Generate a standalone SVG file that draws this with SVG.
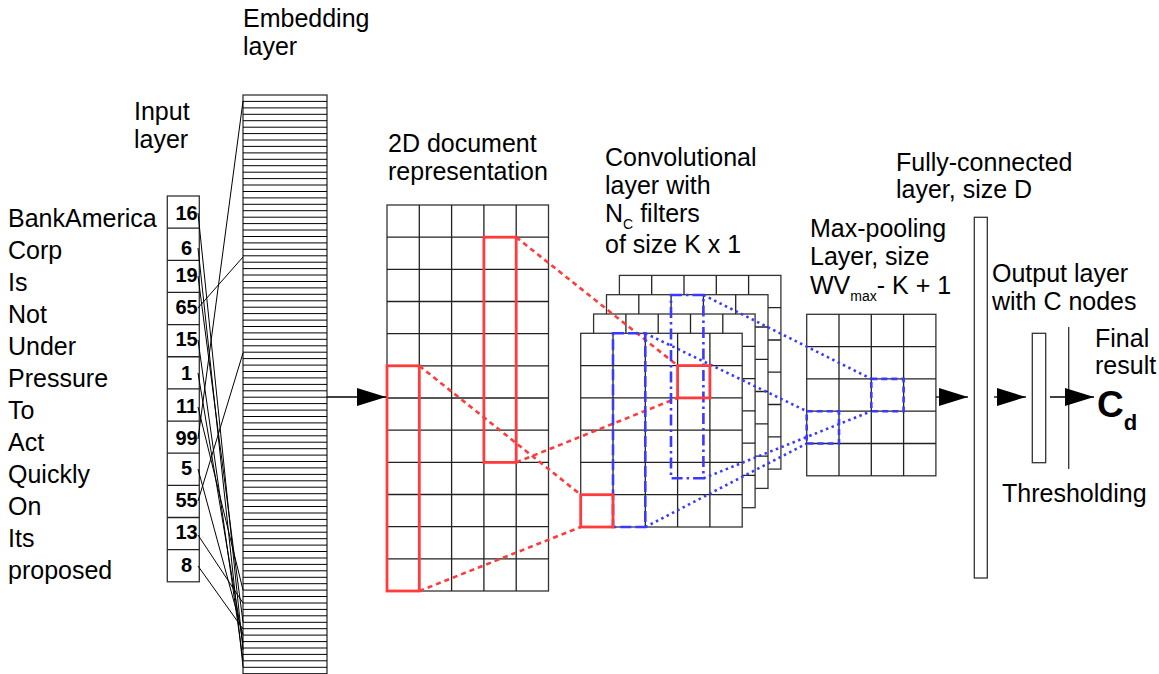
<svg xmlns="http://www.w3.org/2000/svg" xmlns:xlink="http://www.w3.org/1999/xlink" width="1159" height="674" viewBox="0 0 1159 674">
<style>
  text { font-family: "Liberation Sans", Arial, sans-serif; font-size: 25px; fill: #000; }
  .num { font-weight: bold; font-size: 20px; text-anchor: middle; }
  .sub { font-size: 14px; }
  .big { font-weight: bold; font-size: 37px; }
  .bigsub { font-weight: bold; font-size: 22px; }
  .grid { fill: #fff; stroke: #333; stroke-width: 1.3; }
  .gl { fill: none; stroke: #222; stroke-width: 1.3; }
  .wire { fill: none; stroke: #000; stroke-width: 1; }
  .redbox { fill: none; stroke: #ff3b3b; stroke-width: 2.8; }
  .reddash { fill: none; stroke: #ff3b3b; stroke-width: 2.6; stroke-dasharray: 5 4; }
  .bluedot { fill: none; stroke: #3a3aff; stroke-width: 2.6; stroke-dasharray: 2.5 3.5; }
  .bluelong { fill: none; stroke: #3a3aff; stroke-width: 2.6; stroke-dasharray: 11 4; }
  .bluedd { fill: none; stroke: #3a3aff; stroke-width: 2.6; stroke-dasharray: 11 4 2.5 4; }
  .bluesq { fill: none; stroke: #3a3aff; stroke-width: 2.6; stroke-dasharray: 6 4; }
  .arr { fill: none; stroke: #000; stroke-width: 1.3; marker-end: url(#ah); }
  .bar { fill: #fff; stroke: #333; stroke-width: 1.3; }
</style>
<defs>
  <marker id="ah" markerUnits="userSpaceOnUse" markerWidth="30" markerHeight="18" refX="29" refY="9" orient="auto" overflow="visible">
    <path d="M0,0 L29,9 L0,18 Z" fill="#000"/>
  </marker>
  <g id="convgrid">
    <rect x="0" y="0" width="161.5" height="193.7" class="grid"/>
    <path class="gl" d="M32.3,0V193.7M64.6,0V193.7M96.9,0V193.7M129.2,0V193.7M0,32.3H161.5M0,64.6H161.5M0,96.8H161.5M0,129.1H161.5M0,161.4H161.5"/>
  </g>
</defs>
<rect width="1159" height="674" fill="#fff"/>

<!-- Input words -->
<g id="words">
  <text x="8" y="227">BankAmerica</text>
  <text x="8" y="259">Corp</text>
  <text x="8" y="291">Is</text>
  <text x="8" y="323">Not</text>
  <text x="8" y="355">Under</text>
  <text x="8" y="387">Pressure</text>
  <text x="8" y="419">To</text>
  <text x="8" y="451">Act</text>
  <text x="8" y="483">Quickly</text>
  <text x="8" y="515">On</text>
  <text x="8" y="547">Its</text>
  <text x="8" y="579">proposed</text>
</g>

<!-- Input layer -->
<g id="input-layer">
  <text x="134" y="120">Input</text>
  <text x="134" y="148">layer</text>
  <rect x="167.3" y="196" width="32" height="385.8" class="bar"/>
  <path class="gl" d="M167.3,228.15h32M167.3,260.3h32M167.3,292.45h32M167.3,324.6h32M167.3,356.75h32M167.3,388.9h32M167.3,421.05h32M167.3,453.2h32M167.3,485.35h32M167.3,517.5h32M167.3,549.65h32"/>
  <text class="num" x="186.5" y="220">16</text>
  <text class="num" x="186.5" y="255">6</text>
  <text class="num" x="186.5" y="282">19</text>
  <text class="num" x="186.5" y="314">65</text>
  <text class="num" x="186.5" y="346">15</text>
  <text class="num" x="186.5" y="380">1</text>
  <text class="num" x="186.5" y="413">11</text>
  <text class="num" x="186.5" y="445">99</text>
  <text class="num" x="186.5" y="475">5</text>
  <text class="num" x="186.5" y="507">55</text>
  <text class="num" x="186.5" y="539">13</text>
  <text class="num" x="186.5" y="572">8</text>
</g>

<!-- Embedding layer -->
<g id="embedding-layer">
  <text x="243" y="27">Embedding</text>
  <text x="243" y="55">layer</text>
  <rect x="243" y="95" width="84" height="590" class="bar"/>
  <path class="wire" stroke="#222" d="M243,101.4h84M243,107.9h84M243,114.3h84M243,120.7h84M243,127.2h84M243,133.6h84M243,140h84M243,146.4h84M243,152.9h84M243,159.3h84M243,165.7h84M243,172.2h84M243,178.6h84M243,185h84M243,191.5h84M243,197.9h84M243,204.3h84M243,210.7h84M243,217.2h84M243,223.6h84M243,230h84M243,236.5h84M243,242.9h84M243,249.3h84M243,255.8h84M243,262.2h84M243,268.6h84M243,275h84M243,281.5h84M243,287.9h84M243,294.3h84M243,300.8h84M243,307.2h84M243,313.6h84M243,320.1h84M243,326.5h84M243,332.9h84M243,339.3h84M243,345.8h84M243,352.2h84M243,358.6h84M243,365.1h84M243,371.5h84M243,377.9h84M243,384.4h84M243,390.8h84M243,397.2h84M243,403.6h84M243,410.1h84M243,416.5h84M243,422.9h84M243,429.4h84M243,435.8h84M243,442.2h84M243,448.7h84M243,455.1h84M243,461.5h84M243,467.9h84M243,474.4h84M243,480.8h84M243,487.2h84M243,493.7h84M243,500.1h84M243,506.5h84M243,513h84M243,519.4h84M243,525.8h84M243,532.2h84M243,538.7h84M243,545.1h84M243,551.5h84M243,558h84M243,564.4h84M243,570.8h84M243,577.3h84M243,583.7h84M243,590.1h84M243,596.5h84M243,603h84M243,609.4h84M243,615.8h84M243,622.3h84M243,628.7h84M243,635.1h84M243,641.6h84M243,648h84M243,654.4h84M243,660.8h84M243,667.3h84M243,673.7h84"/>
</g>

<!-- 2D document representation -->
<g id="doc-representation">
  <text x="388" y="152">2D document</text>
  <text x="388" y="180">representation</text>
  <rect x="387" y="205" width="161.5" height="386" class="grid"/>
  <path class="gl" d="M419.3,205V591M451.6,205V591M483.9,205V591M516.2,205V591M387,237.2h161.5M387,269.3h161.5M387,301.5h161.5M387,333.7h161.5M387,365.8h161.5M387,398h161.5M387,430.2h161.5M387,462.4h161.5M387,494.5h161.5M387,526.7h161.5M387,558.8h161.5"/>
  <rect x="483.9" y="237.2" width="32.3" height="225.2" class="redbox"/>
  <rect x="387" y="365.8" width="32.3" height="225.2" class="redbox"/>
</g>

<!-- Convolutional layer -->
<g id="conv-layer">
  <text x="605" y="166">Convolutional</text>
  <text x="605" y="194">layer with</text>
  <text x="605" y="222">N<tspan class="sub" dy="7">C</tspan><tspan dy="-7"> filters</tspan></text>
  <text x="605" y="253">of size K x 1</text>
  <use href="#convgrid" xlink:href="#convgrid" transform="translate(619.4,275.4)"/>
  <use href="#convgrid" xlink:href="#convgrid" transform="translate(606.5,294.7)"/>
  <use href="#convgrid" xlink:href="#convgrid" transform="translate(593.6,314)"/>
  <use href="#convgrid" xlink:href="#convgrid" transform="translate(580.7,333.3)"/>
</g>

<!-- Max pooling layer -->
<g id="maxpool-layer">
  <text x="810" y="237">Max-pooling</text>
  <text x="810" y="265">Layer, size</text>
  <text x="810" y="294">WV<tspan class="sub" dy="7">max</tspan><tspan dy="-7">- K + 1</tspan></text>
  <rect x="806.7" y="314.3" width="129.2" height="161.5" class="grid"/>
  <path class="gl" d="M839,314.3V475.8M871.3,314.3V475.8M903.6,314.3V475.8M806.7,346.6h129.2M806.7,378.9h129.2M806.7,411.2h129.2M806.7,443.5h129.2"/>
</g>

<!-- Fully connected layer -->
<g id="fc-layer">
  <text x="896" y="171">Fully-connected</text>
  <text x="896" y="198">layer, size D</text>
  <rect x="974.3" y="217.3" width="13" height="360.7" class="bar"/>
</g>

<!-- Output layer -->
<g id="output-layer">
  <text x="992" y="282">Output layer</text>
  <text x="992" y="309.5">with C nodes</text>
  <rect x="1032.3" y="333.3" width="13.4" height="129.4" class="bar"/>
</g>

<!-- Thresholding -->
<g id="thresholding">
  <line x1="1068.7" y1="327" x2="1068.7" y2="469" stroke="#333" stroke-width="1.3"/>
  <text x="1002" y="502">Thresholding</text>
</g>

<!-- Final result -->
<g id="final-result">
  <text x="1095" y="346.5">Final</text>
  <text x="1095" y="374">result</text>
  <text x="1097" y="417" class="big">C<tspan class="bigsub" dy="13">d</tspan></text>
</g>

<!-- Connectors -->
<g id="connectors">
  <g id="embedding-lookup">
    <path class="wire" d="M198,213L243,650M198,248L243,667M198,276L243,622M198,308L243,257M198,340L243,660M198,373L243,643M198,407L243,590M198,439L243,101M198,469L243,635M198,501L243,353M198,535L243,603M198,566L243,629"/>
  </g>
  <path class="reddash" d="M516.2,237.2L677.6,365.6M516.2,462.4L677.6,397.9M419.3,365.8L580.7,494.7M419.3,591L580.7,527"/>
  <path class="bluedot" d="M645.3,333.3L806.7,411.2M645.3,527L806.7,443.5M703.4,295L871.3,378.9M703.4,478.3L871.3,411.2"/>
  <path class="arr" d="M327,397H386"/>
  <path class="arr" d="M936,397H968"/>
  <path class="arr" d="M994,397H1026"/>
  <path class="arr" d="M1050,397H1094"/>
</g>

<!-- Highlights over the stack -->
<g id="highlights">
  <rect x="613" y="333.3" width="32.3" height="193.7" class="bluelong"/>
  <rect x="671" y="295" width="32.4" height="183.3" class="bluedd"/>
  <rect x="677.6" y="365.6" width="32.3" height="32.3" class="redbox"/>
  <rect x="580.7" y="494.7" width="32.3" height="32.3" class="redbox"/>
  <rect x="871.3" y="378.9" width="32.3" height="32.3" class="bluesq"/>
  <rect x="806.7" y="411.2" width="32.3" height="32.3" class="bluesq"/>
</g>
</svg>
